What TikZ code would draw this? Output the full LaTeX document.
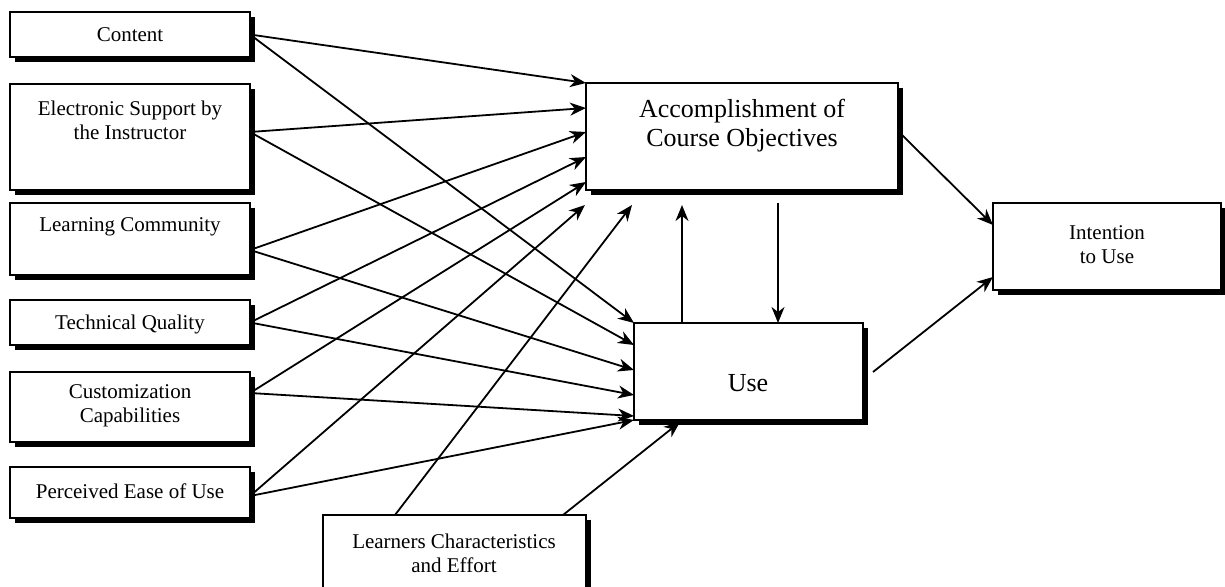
\documentclass[tikz,border=0pt]{standalone}
\usepackage{fontspec}
\setmainfont{Liberation Serif}
\usetikzlibrary{shadows,calc,arrows.meta}
\begin{document}
\begin{tikzpicture}[x=0.5pt,y=-0.5pt,
  box/.style={draw=black, line width=0.85pt, fill=white, inner sep=0pt, outer sep=0pt, anchor=north west,
    drop shadow={shadow xshift=2.7pt, shadow yshift=-2.7pt, fill=black, opacity=1}},
  small/.style={font=\fontsize{10.5}{12}\selectfont, align=center, inner sep=0pt},
  big/.style={font=\fontsize{13}{14.5}\selectfont, align=center, inner sep=0pt},
  arr/.style={line width=0.9pt, -{Stealth[length=8pt,width=6.5pt,inset=2.5pt]}},
  ln/.style={line width=0.9pt}]
\clip (0,0) rectangle (1225,587);
\fill[white] (0,0) rectangle (1225,587);
% boxes
\node[box, minimum width=120pt, minimum height=22.5pt] (content) at (10,12) {};
\node[box, minimum width=120pt, minimum height=53pt] (es) at (10,84) {};
\node[box, minimum width=120pt, minimum height=36pt] (lc) at (10,203) {};
\node[box, minimum width=120pt, minimum height=22.5pt] (tq) at (10,300) {};
\node[box, minimum width=120pt, minimum height=35pt] (cc) at (10,372) {};
\node[box, minimum width=120pt, minimum height=25.5pt] (pe) at (10,467) {};
\node[box, minimum width=156pt, minimum height=53.5pt] (acc) at (586,83) {};
\node[box, minimum width=114.5pt, minimum height=48.5pt] (use) at (634,323) {};
\node[box, minimum width=114pt, minimum height=43.5pt] (int) at (993,203) {};
\node[box, minimum width=131.5pt, minimum height=45pt] (lce) at (323,515) {};
% texts
\node[small] (tcontent) at (130,35) {Content};
\node[small] (tes) at (130,120) {Electronic Support by\\the Instructor};
\node[small] (tlc) at (130,227) {Learning Community};
\node[small] (ttq) at (130,324) {Technical Quality};
\node[small] (tcc) at (130,406) {Customization\\Capabilities};
\node[small] (tpe) at (130,491) {Perceived Ease of Use};
\node[small] (tlce) at (454,553) {Learners Characteristics\\and Effort};
\node[big] (tacc) at (742,126) {Accomplishment of\\Course Objectives};
\node[big] (tuse) at (748,383) {Use};
\node[small] (tint) at (1107,245) {Intention\\to Use};
% free ends
\coordinate (pefree) at (585,205);
\coordinate (lcefree) at (632,205);
\coordinate (useup) at (682,205);
\coordinate (accdown) at (778,203);
\coordinate (usefree) at (873,372);
% arrows to accomplishment
\draw[arr] (content.east) -- (acc.north west);
\draw[arr] ($(es.east)+(0,-5)$) -- ($(acc.north west)+(0,25)$);
\draw[arr] ($(lc.east)+(0,11)$) -- ($(acc.north west)+(0,49)$);
\draw[arr] (tq.east) -- ($(acc.north west)+(0,74)$);
\draw[arr] ($(cc.east)+(0,-14)$) -- ($(acc.north west)+(0,99)$);
\draw[arr] ($(pe.east)+(0,3.5)$) -- (pefree);
\draw[arr] ($(lce.north west)+(72,0)$) -- (lcefree);
% arrows to use
\draw[arr] (content.east) -- (use.north west);
\draw[arr] ($(es.east)+(0,-5)$) -- ($(use.north west)+(0,22)$);
\draw[arr] ($(lc.east)+(0,11)$) -- ($(use.north west)+(0,47)$);
\draw[arr] (tq.east) -- ($(use.north west)+(0,72)$);
\draw[arr] ($(cc.east)+(0,-14)$) -- ($(use.north west)+(0,93)$);
\draw[arr] ($(pe.east)+(0,3.5)$) -- ($(use.north west)+(0,97)$);
\draw[arr] ($(lce.north west)+(240,0)$) -- ($(use.south west)+(46,2)$);
% between acc and use
\draw[arr] ($(use.north west)+(48,0)$) -- (useup);
\draw[arr] (accdown) -- ($(use.north west)+(144,0)$);
% to intention
\draw[arr] ($(acc.north east)+(4,52)$) -- ($(int.north west)+(0,22)$);
\draw[arr] (usefree) -- ($(int.north west)+(0,74)$);
\end{tikzpicture}
\end{document}
